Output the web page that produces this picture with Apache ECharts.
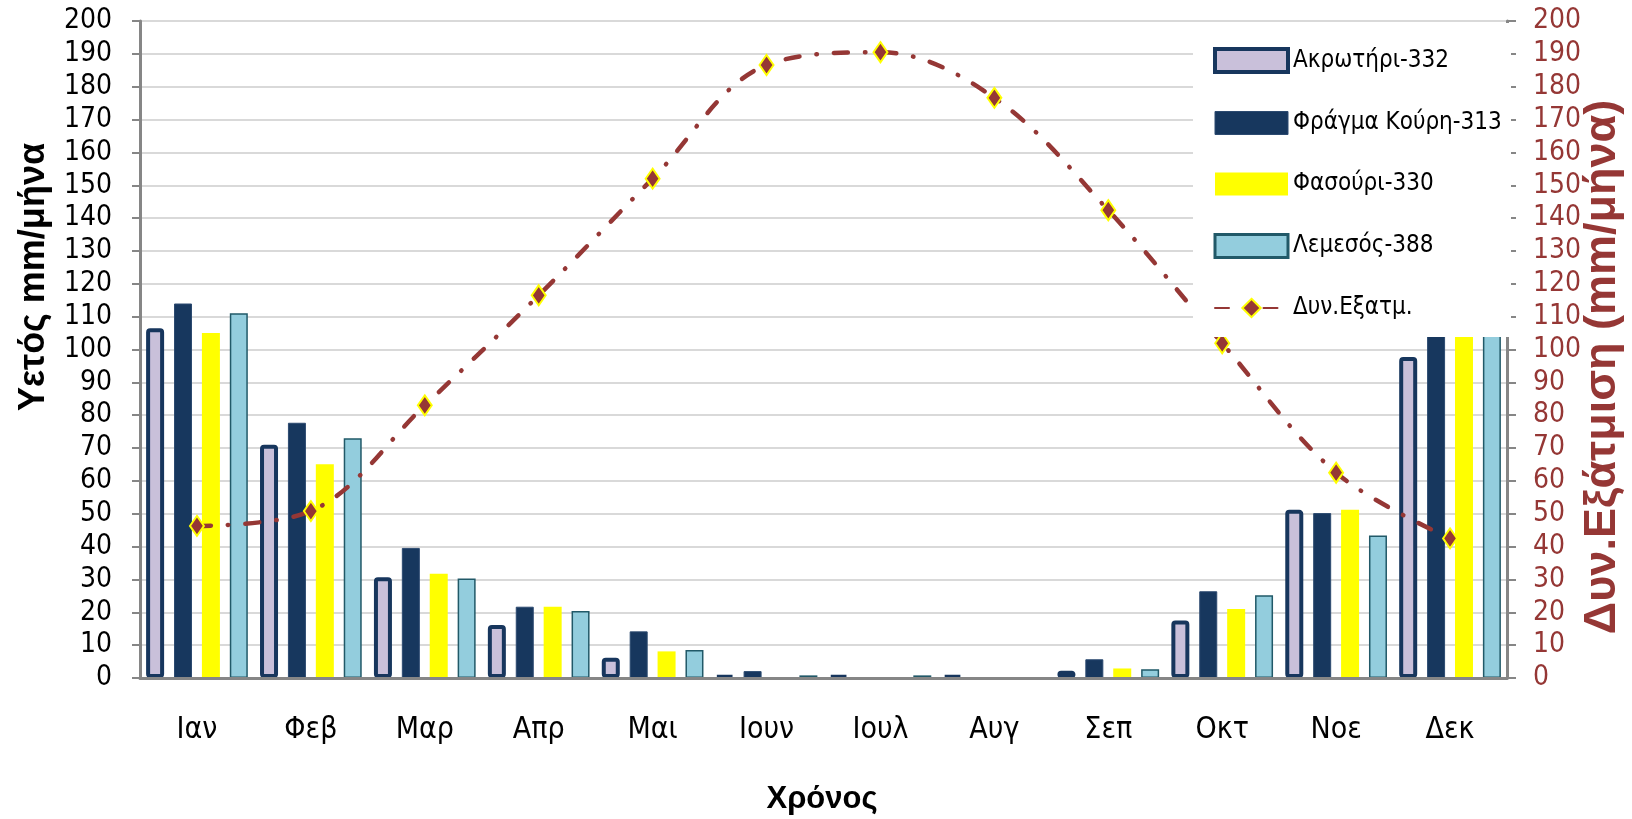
<!DOCTYPE html>
<html>
<head>
<meta charset="utf-8">
<script src="https://cdn.jsdelivr.net/npm/echarts@6/dist/echarts.min.js"></script>
<style>html,body{margin:0;padding:0;background:#fff}#c{width:1632px;height:819px}</style>
</head>
<body>
<div id="c"></div>
<script>
// ---- data ----
const months = ['Ιαν','Φεβ','Μαρ','Απρ','Μαι','Ιουν','Ιουλ','Αυγ','Σεπ','Οκτ','Νοε','Δεκ'];
const akrotiri = [106.5, 71, 30.7, 16.1, 6.2, 0.7, 0.7, 0.7, 2.2, 17.5, 51.2, 97.7];
const kouris   = [114, 77.7, 39.6, 21.7, 14.2, 2.1, 0, 0, 5.7, 26.4, 50.2, 120];
const fasouri  = [105, 65.1, 31.7, 21.7, 8.1, 0, 0, 0, 2.9, 21, 51.2, 115];
const lemesos  = [111, 73, 30.3, 20.4, 8.5, 0.8, 0.8, 0, 2.7, 25.2, 43.4, 115];
const evap     = [46.3, 50.8, 83, 116.5, 152, 186.6, 190.5, 176.6, 142.4, 101.9, 62.5, 42.5];
const seriesNames = ['Ακρωτήρι-332','Φράγμα Κούρη-313','Φασούρι-330','Λεμεσός-388','Δυν.Εξατμ.'];
const yTitleLeft = 'Υετός mm/μήνα';
const yTitleRight = 'Δυν.Εξάτμιση (mm/μήνα)';
const xTitle = 'Χρόνος';

const FONT = "'Liberation Sans Narrow','DejaVu Sans Condensed','Liberation Sans',sans-serif";
const BOLD = "'Liberation Sans','DejaVu Sans',sans-serif";
const RED = '#953735';

const legendBorder = [4, 1, 0, 3];
const legendData = seriesNames.map((n, i) => i < 4
  ? {name: n, icon: 'rect', itemStyle: {borderWidth: legendBorder[i]}}
  : {name: n});

const chart = echarts.init(document.getElementById('c'), null, {renderer:'canvas'});
chart.setOption({
  animation: false,
  backgroundColor: '#ffffff',
  grid: {left: 140, right: 125, top: 21, bottom: 141, containLabel: false},
  legend: {
    orient: 'vertical', left: 1213, top: 47,
    padding: 0,
    itemWidth: 73, itemHeight: 23, itemGap: 37,
    data: legendData,
    textStyle: {fontFamily: FONT, fontSize: 24, lineHeight: 23, color: '#000'}
  },
  xAxis: {
    type: 'category', data: months, z: 5,
    axisLine: {lineStyle: {color: '#868686', width: 3}},
    axisTick: {length: 15, lineStyle: {color: '#868686', width: 2}},
    axisLabel: {fontFamily: FONT, fontSize: 30, color: '#000', margin: 37}
  },
  yAxis: [{
    type: 'value', min: 0, max: 200, interval: 10, position: 'left',
    axisLine: {show: true, lineStyle: {color: '#868686', width: 3}},
    axisTick: {show: true, length: 8, lineStyle: {color: '#868686', width: 2}},
    axisLabel: {fontFamily: FONT, fontSize: 28, color: '#000', margin: 28},
    splitLine: {lineStyle: {color: '#D9D9D9', width: 2}}
  }, {
    type: 'value', min: 0, max: 200, interval: 10, position: 'right',
    axisLine: {show: true, lineStyle: {color: '#868686', width: 3}},
    axisTick: {show: true, length: 9, lineStyle: {color: '#868686', width: 2}},
    axisLabel: {fontFamily: FONT, fontSize: 28, color: RED, margin: 26},
    splitLine: {show: false}
  }],
  series: [
    {name: seriesNames[0], type: 'bar', data: akrotiri, barWidth: 18, barGap: '55%',
     itemStyle: {color: '#C9C0DA', borderColor: '#17365D', borderWidth: 4, borderRadius: 2}},
    {name: seriesNames[1], type: 'bar', data: kouris, barWidth: 18, barGap: '55%',
     itemStyle: {color: '#17375E', borderColor: '#2C4A70', borderWidth: 1}},
    {name: seriesNames[2], type: 'bar', data: fasouri, barWidth: 18, barGap: '55%',
     itemStyle: {color: '#FFFF00'}},
    {name: seriesNames[3], type: 'bar', data: lemesos, barWidth: 18, barGap: '55%',
     itemStyle: {color: '#93CDDD', borderColor: '#215968', borderWidth: 1.5}},
    {name: seriesNames[4], type: 'line', yAxisIndex: 1, data: evap, smooth: 0.35, z: 3,
     symbol: 'diamond', symbolSize: [14, 20], showAllSymbol: true,
     lineStyle: {color: RED, width: 4.5, type: [14, 17, 0.5, 17], cap: 'round'},
     itemStyle: {color: RED, borderColor: '#FFFF00', borderWidth: 2}}
  ],
  graphic: [
    {type: 'rect', z: 3.5, silent: true,
     shape: {x: 1193, y: 23, width: 318, height: 314},
     style: {fill: '#ffffff'}},
    {type: 'text', x: 34, y: 277, rotation: Math.PI / 2, z: 10,
     style: {text: yTitleLeft, font: "bold 36px " + BOLD, fill: '#000', textAlign: 'center', textVerticalAlign: 'middle'}},
    {type: 'text', x: 1603, y: 367, rotation: Math.PI / 2, z: 10,
     style: {text: yTitleRight, font: "bold 45px " + BOLD, fill: RED, textAlign: 'center', textVerticalAlign: 'middle'}},
    {type: 'text', x: 822, y: 799, z: 10,
     style: {text: xTitle, font: "bold 31px " + BOLD, fill: '#000', textAlign: 'center', textVerticalAlign: 'middle'}}
  ]
});
</script>
</body>
</html>
